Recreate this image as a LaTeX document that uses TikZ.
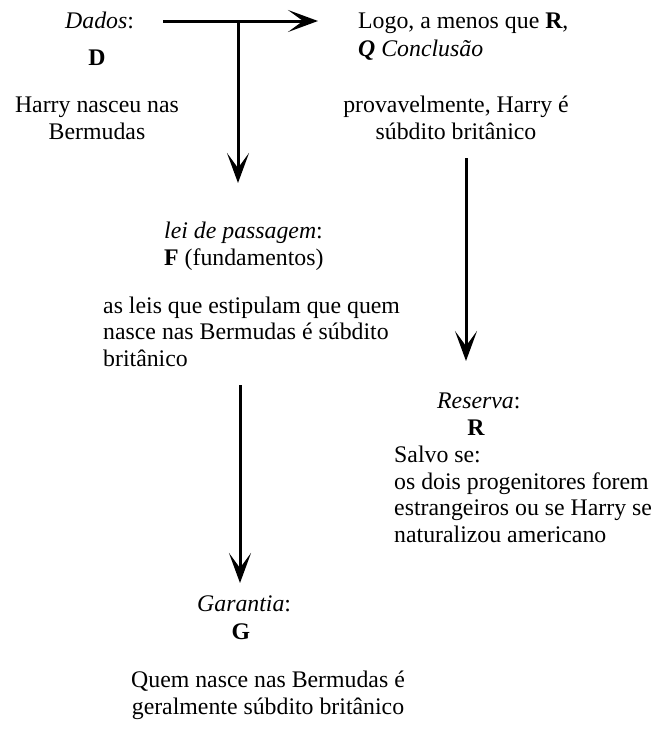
\documentclass[tikz,border=0pt]{standalone}
\usepackage{fontspec}
\setmainfont{Liberation Serif}
\usetikzlibrary{arrows.meta}
\tikzset{
  txt/.style={inner sep=0pt, font=\fontsize{23.8}{26.5}\selectfont},
  conn/.style={line width=3pt, -{Stealth[length=30pt,width=22pt,inset=15pt]}}
}
\begin{document}
\begin{tikzpicture}[x=1pt,y=1pt]
\useasboundingbox (0,0) rectangle (655,-740);
% Dados
\node[txt, anchor=base west] (dados) at (65,-28) {\textit{Dados}:};
\node[txt, anchor=base] (d) at (97,-65) {\textbf{D}};
\node[txt, anchor=base, align=center] (harry) at (97,-139) {Harry nasceu nas\\Bermudas};
% Conclusion
\node[txt, anchor=base west, align=left] (logo) at (358,-56) {Logo, a menos que \textbf{R},\\[1.5pt]\textbf{\textit{Q}} \textit{Conclusão}};
\node[txt, anchor=base, align=center] (prov) at (456,-139) {provavelmente, Harry é\\súbdito britânico};
% Lei de passagem
\node[txt, anchor=base west, align=left] (lei) at (164,-265) {\textit{lei de passagem}:\\\textbf{F} (fundamentos)};
\node[txt, anchor=base west, align=left] (leis) at (103,-366) {as leis que estipulam que quem\\nasce nas Bermudas é súbdito\\britânico};
% Reserva
\node[txt, anchor=base west] (res) at (437,-408) {\textit{Reserva}:};
\node[txt, anchor=base] (r) at (476,-435) {\textbf{R}};
\node[txt, anchor=base west, align=left] (salvo) at (394,-542) {Salvo se:\\os dois progenitores forem\\estrangeiros ou se Harry se\\naturalizou americano};
% Garantia
\node[txt, anchor=base west] (gar) at (197,-611) {\textit{Garantia}:};
\node[txt, anchor=base] (g) at (241,-639) {\textbf{G}};
\node[txt, anchor=base, align=center] (quem) at (268,-714) {Quem nasce nas Bermudas é\\geralmente súbdito britânico};
% connectors
\coordinate (h0) at (163,-21);
\coordinate (h1) at (318,-21);
\coordinate (v0) at (238,-21);
\coordinate (v1) at (238,-183);
\coordinate (r0) at (466,-158);
\coordinate (r1) at (466,-361);
\coordinate (g0) at (240,-385);
\coordinate (g1) at (240,-583);
\draw[conn] (h0) -- (h1);
\draw[conn] (v0) -- (v1);
\draw[conn] (r0) -- (r1);
\draw[conn] (g0) -- (g1);
\end{tikzpicture}
\end{document}
